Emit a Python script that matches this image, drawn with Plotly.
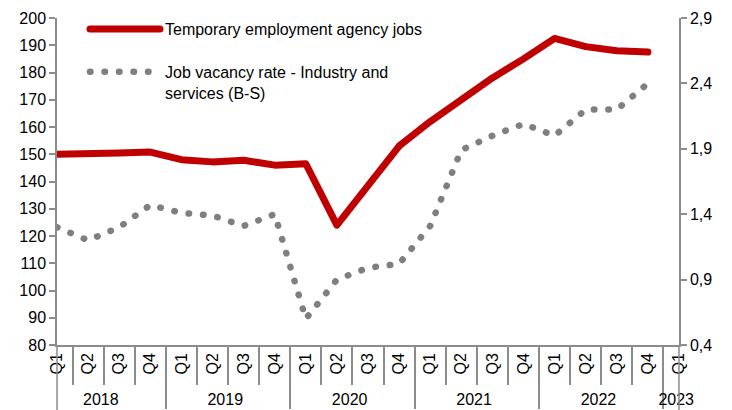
import plotly.graph_objects as go

years = ["2018"] * 4 + ["2019"] * 4 + ["2020"] * 4 + ["2021"] * 4 + ["2022"] * 4 + ["2023"]
quarters = ["Q1", "Q2", "Q3", "Q4"] * 5 + ["Q1"]

temp_jobs = [150, 150.5, 150.5, 150.8, 148, 147.2, 147.8, 146,
             146.5, 124, 138, 153, 162, 170, 178, 185,
             192.5, 189.5, 188, 187.5, None]
vacancy_rate = [1.30, 1.20, 1.30, 1.47, 1.41, 1.39, 1.31, 1.40,
                0.60, 0.90, 0.99, 1.02, 1.31, 1.89, 2.00, 2.09,
                2.00, 2.20, 2.20, 2.40, None]

left_ticks = list(range(80, 201, 10))
right_ticks = [0.4, 0.9, 1.4, 1.9, 2.4, 2.9]

FONT = "Liberation Sans, Arial"
AXC = "#8c8c8c"

fig = go.Figure()
fig.add_trace(go.Scatter(
    x=[years, quarters], y=temp_jobs, mode="lines",
    name="Temporary employment agency jobs", legendgroup="a",
    line=dict(color="#C00000", width=7),
    yaxis="y",
))
fig.add_trace(go.Scatter(
    x=[years, quarters], y=vacancy_rate, mode="lines",
    name="Job vacancy rate - Industry and<br>services (B-S)", legendgroup="b",
    line=dict(color="#7f7f7f", width=6.5, dash="0.5px,14px"),
    yaxis="y2",
))

fig.update_layout(
    width=732, height=410,
    margin=dict(l=57, r=53, t=18, b=65, autoexpand=False),
    paper_bgcolor="white", plot_bgcolor="white",
    separators=",.",
    font=dict(family=FONT, size=16, color="#000000"),
    showlegend=True,
    legend=dict(x=0.045, y=1.018, xanchor="left", yanchor="top",
                bgcolor="rgba(0,0,0,0)", font=dict(size=16), valign="top",
                traceorder="grouped", tracegroupgap=19, itemwidth=70),
    xaxis=dict(
        type="multicategory", automargin=False,
        showline=True, linecolor=AXC, linewidth=1.5,
        ticks="outside", ticklen=38, tickcolor=AXC, tickwidth=1.5,
        tickangle=-90,
        showdividers=True, dividercolor=AXC, dividerwidth=1.5,
        showgrid=False, zeroline=False,
        tickfont=dict(size=16),
    ),
    yaxis=dict(
        range=[80, 200], tickvals=left_ticks, automargin=False,
        showline=True, linecolor=AXC, linewidth=1.5,
        ticks="outside", ticklen=6, tickcolor=AXC, tickwidth=1.5,
        showgrid=False, zeroline=False,
    ),
    yaxis2=dict(
        range=[0.4, 2.9], tickvals=right_ticks, tickformat=".1f",
        overlaying="y", side="right", automargin=False,
        showline=True, linecolor=AXC, linewidth=1.5,
        ticks="outside", ticklen=6, tickcolor=AXC, tickwidth=1.5,
        showgrid=False, zeroline=False,
    ),
    shapes=[
        dict(type="line", xref="paper", yref="paper", x0=0, x1=0, y0=0, y1=-0.2,
             line=dict(color=AXC, width=1.5)),
        dict(type="line", xref="paper", yref="paper", x0=1, x1=1, y0=0, y1=-0.2,
             line=dict(color=AXC, width=1.5)),
    ],
)

post = """
document.body.style.margin = '0';
document.documentElement.style.margin = '0';
var gd = document.getElementById('{plot_id}');
function rc(){
  gd.querySelectorAll('path.js-line').forEach(function(p){
    p.style.strokeLinecap = 'round'; p.style.strokeLinejoin = 'round';
  });
}
rc();
gd.on('plotly_afterplot', rc);
"""
fig.write_html("out.html", post_script=post, config={"displayModeBar": False})
